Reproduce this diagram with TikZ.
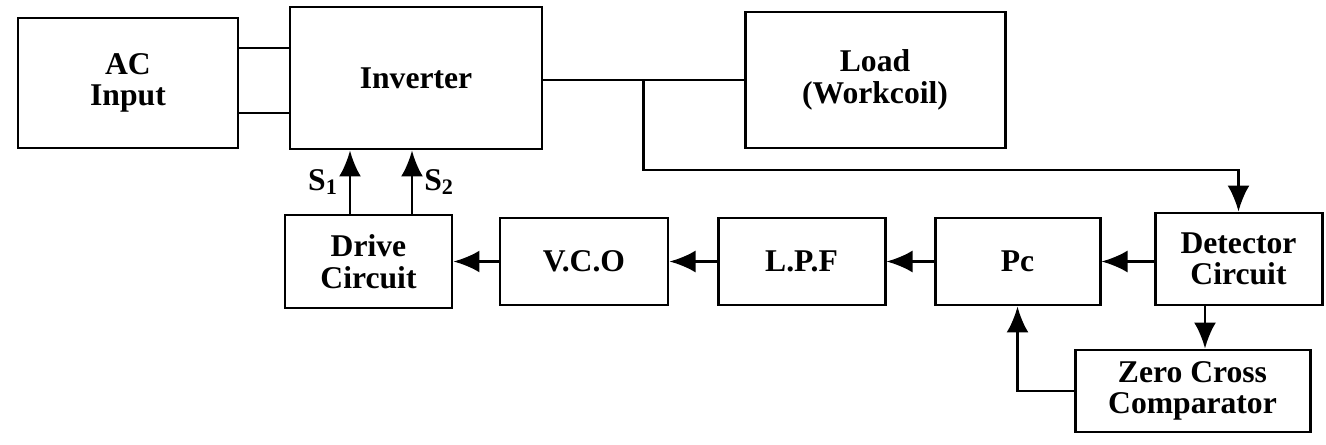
\documentclass[tikz,border=0pt]{standalone}
\usepackage{fontspec}
\setmainfont{Liberation Serif}
\usepackage{tikz}
\usetikzlibrary{shapes,arrows.meta,calc}
\tikzstyle{line} = [draw, line width=1.6pt, -{Latex[length=5.2mm,width=4.4mm]}]
\tikzstyle{wire} = [draw, line width=1.6pt]
\tikzstyle{block} = [rectangle, draw=black, line width=1.7pt, align=center, inner sep=0pt, font=\fontsize{18}{18}\selectfont\bfseries]

\begin{document}
\begin{tikzpicture}
				\useasboundingbox (0,0) rectangle (26.52,8.88);
				% Place nodes
				\node [block, minimum width=4.4cm, minimum height=2.6cm] (acin) at (2.56,7.22) {AC\\Input};
				\node [block, minimum width=5.04cm, minimum height=2.84cm] (inv) at (8.32,7.32) {Inverter};
				\node [block, minimum width=5.2cm, minimum height=2.72cm] (load) at (17.5,7.28) {Load\\(Workcoil)};
				\node [block, minimum width=3.34cm, minimum height=1.86cm] (drive) at (7.37,3.65) {Drive\\Circuit};
				\node [block, minimum width=3.36cm, minimum height=1.74cm] (vco) at (11.68,3.65) {V.C.O};
				\node [block, minimum width=3.34cm, minimum height=1.74cm] (lpf) at (16.03,3.65) {L.P.F};
				\node [block, minimum width=3.3cm, minimum height=1.74cm] (pc) at (20.35,3.65) {Pc};
				\node [block, minimum width=3.34cm, minimum height=1.84cm] (det) at (24.77,3.70) {Detector\\Circuit};
				\node [block, minimum width=4.7cm, minimum height=1.64cm] (zc) at (23.85,1.06) {Zero Cross\\Comparator};
				\coordinate (br) at ($(inv.east |- load.west)!0.5!(load.west)$);
				\coordinate (tap) at ([yshift=-1.8cm]br);
				% Draw edges
				\path [wire] ([yshift=0.7cm]acin.east) -- ([yshift=0.7cm]acin.east -| inv.west);
				\path [wire] ([yshift=-0.6cm]acin.east) -- ([yshift=-0.6cm]acin.east -| inv.west);
				\path [wire] (inv.east |- load.west) -- (load.west);
				\path [line] (br) -- (tap) -- (tap -| det.north) -- (det.north);
				\path [line] ([xshift=-0.37cm]drive.north) -- node [anchor=east, pos=0.5, xshift=-0.1cm] {\fontsize{18}{19}\selectfont$\mathbf{S_1}$} ([xshift=-0.37cm]drive.north |- inv.south);
				\path [line] ([xshift=0.87cm]drive.north) -- node [anchor=west, pos=0.5, xshift=0.1cm] {\fontsize{18}{19}\selectfont$\mathbf{S_2}$} ([xshift=0.87cm]drive.north |- inv.south);
				\path [line] (det.west |- pc.east) -- (pc.east);
				\path [line] (pc.west) -- (lpf.east);
				\path [line] (lpf.west) -- (vco.east);
				\path [line] (vco.west) -- (drive.east);
				\path [line] ([xshift=-0.67cm]det.south) -- ([xshift=-0.67cm]det.south |- zc.north);
				\path [line] (zc.west) -| (pc.south);
\end{tikzpicture}
\end{document}
